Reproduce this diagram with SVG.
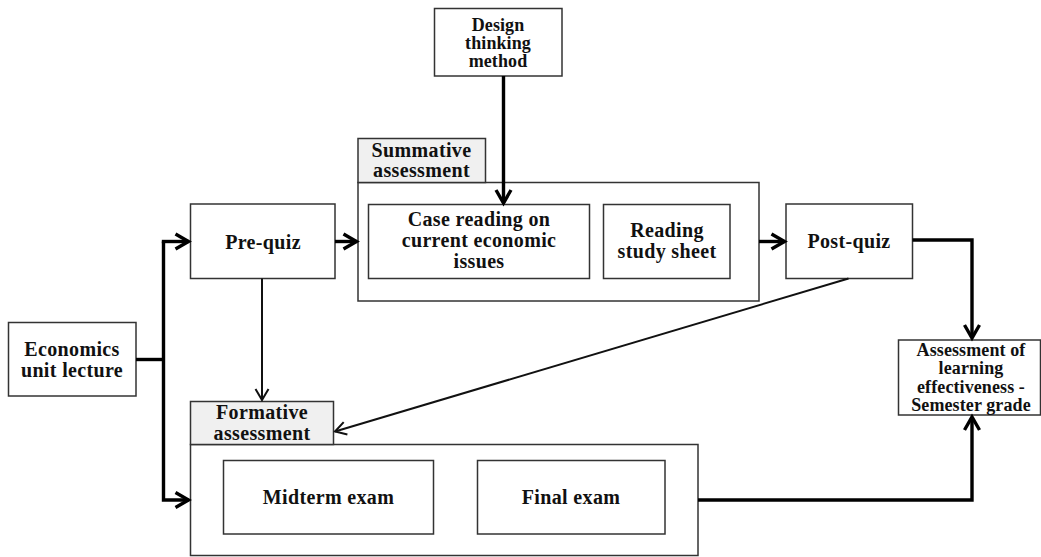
<svg xmlns="http://www.w3.org/2000/svg" width="1041" height="557" viewBox="0 0 1041 557">
<style>
.box{fill:#fff;stroke:#333;stroke-width:1.5}
.tab{fill:#f0f0f0;stroke:#333;stroke-width:1.5}
text{font-family:"Liberation Serif","Times New Roman",serif;font-weight:bold;fill:#111;text-anchor:middle;font-size:20px;letter-spacing:0.35px}
.s{font-size:18px;letter-spacing:0.1px}
.thick{fill:none;stroke:#000;stroke-width:3.4}
.thin{fill:none;stroke:#111;stroke-width:2}
</style>
<defs>
<marker id="ah" markerUnits="userSpaceOnUse" markerWidth="24" markerHeight="24" viewBox="-16 -12 24 24" refX="0" refY="0" orient="auto" overflow="visible">
<path d="M-13,-7.5 L0,0 L-13,7.5" fill="none" stroke="#000" stroke-width="3.4"/>
</marker>
<marker id="at" markerUnits="userSpaceOnUse" markerWidth="24" markerHeight="24" viewBox="-16 -12 24 24" refX="0" refY="0" orient="auto" overflow="visible">
<path d="M-11,-6.5 L0,0 L-11,6.5" fill="none" stroke="#111" stroke-width="2"/>
</marker>
</defs>
<rect width="1041" height="557" fill="#fff"/>

<g id="summative">
<rect class="box" x="358" y="182.5" width="401" height="118.5"/>
<rect class="tab" x="358" y="138.5" width="127.5" height="44"/>
<text x="421.5" y="157">Summative</text>
<text x="421.5" y="177">assessment</text>
</g>
<g id="formative">
<rect class="box" x="190.5" y="444.5" width="507.5" height="111"/>
<rect class="tab" x="190.5" y="401.5" width="143" height="43"/>
<text x="262" y="419">Formative</text>
<text x="262" y="440">assessment</text>
</g>

<g id="design">
<rect class="box" x="434.5" y="8.5" width="127.5" height="67.5"/>
<text class="s" x="498" y="31">Design</text>
<text class="s" x="498" y="49">thinking</text>
<text class="s" x="498" y="67">method</text>
</g>
<g id="economics">
<rect class="box" x="8.5" y="322.5" width="127.5" height="73.5"/>
<text x="72" y="356">Economics</text>
<text x="72" y="377">unit lecture</text>
</g>
<g id="prequiz">
<rect class="box" x="190.5" y="204" width="144.5" height="74.5"/>
<text x="263" y="249">Pre-quiz</text>
</g>
<g id="casereading">
<rect class="box" x="368.5" y="204.5" width="221" height="74"/>
<text x="479" y="226">Case reading on</text>
<text x="479" y="247">current economic</text>
<text x="479" y="268">issues</text>
</g>
<g id="readingsheet">
<rect class="box" x="603.5" y="204.5" width="126.5" height="74"/>
<text x="667" y="237">Reading</text>
<text x="667" y="258">study sheet</text>
</g>
<g id="postquiz">
<rect class="box" x="786" y="204" width="126.5" height="74.5"/>
<text x="849" y="248">Post-quiz</text>
</g>
<g id="midterm">
<rect class="box" x="223.5" y="460.5" width="210" height="73.5"/>
<text x="328.5" y="504">Midterm exam</text>
</g>
<g id="final">
<rect class="box" x="477.5" y="460.5" width="187.5" height="73.5"/>
<text x="571" y="504">Final exam</text>
</g>
<g id="assessment">
<rect class="box" x="898.5" y="340" width="142" height="75"/>
<text class="s" x="971" y="356">Assessment of</text>
<text class="s" x="971" y="374">learning</text>
<text class="s" x="971" y="392.5">effectiveness -</text>
<text class="s" x="971" y="411">Semester grade</text>
</g>

<g id="connectors">
<path class="thick" d="M503.5,76 V203" marker-end="url(#ah)"/>
<path class="thick" d="M136,359.5 H163.5"/>
<path class="thick" d="M163.5,241.5 V500 H188.5" marker-end="url(#ah)"/>
<path class="thick" d="M161.8,241.5 H188.5" marker-end="url(#ah)"/>
<path class="thick" d="M335,241.5 H356.5" marker-end="url(#ah)"/>
<path class="thick" d="M759,241.5 H784.5" marker-end="url(#ah)"/>
<path class="thick" d="M912.5,240 H972 V338" marker-end="url(#ah)"/>
<path class="thick" d="M698,500 H972 V417" marker-end="url(#ah)"/>
<path class="thin" d="M262,278.5 V400" marker-end="url(#at)"/>
<path class="thin" d="M848.5,278.5 L335,431.5" marker-end="url(#at)"/>
</g>
</svg>
